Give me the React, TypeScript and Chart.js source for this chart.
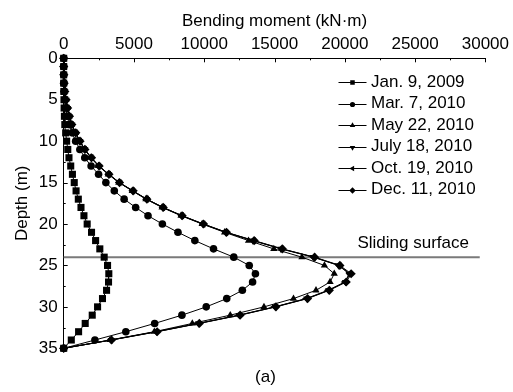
import React, { useEffect, useRef } from 'react';
import { Chart, registerables } from 'chart.js';
import { drawPoint } from 'chart.js/helpers';

Chart.register(...registerables);

// ---- data ----
const depths = [0, 1, 2, 3, 4, 5, 6, 7, 8, 9, 10, 11, 12, 13, 14, 15, 16, 17, 18, 19, 20, 21, 22, 23, 24, 25, 26, 27, 28, 29, 30, 31, 32, 33, 34, 35];

const jan2009 = [0, 0, 0, 0, 10, 20, 30, 50, 80, 140, 210, 290, 375, 500, 620, 750, 880, 1040, 1230, 1440, 1670, 1980, 2270, 2570, 2880, 3120, 3210, 3190, 3050, 2760, 2410, 2030, 1530, 1060, 540, 0];
const mar2010 = [0, 0, 0, 10, 30, 80, 150, 250, 400, 600, 850, 1150, 1500, 1950, 2480, 3000, 3600, 4300, 5120, 6000, 7020, 8130, 9330, 10660, 12100, 13200, 13640, 13440, 12710, 11600, 10140, 8410, 6470, 4420, 2220, 0];
const may2010 = [0, 0, 10, 30, 80, 160, 260, 390, 560, 840, 1130, 1480, 1930, 2470, 3170, 3920, 4880, 5850, 7000, 8350, 9850, 11450, 13150, 14950, 16950, 18550, 19250, 18950, 17950, 16350, 14250, 11850, 9150, 6450, 3300, 0];
const jul2010 = [0, 0, 10, 30, 80, 170, 270, 400, 570, 850, 1150, 1500, 1950, 2500, 3200, 3950, 4900, 5900, 7050, 8400, 9900, 11520, 13450, 15450, 17750, 19550, 20300, 20050, 18850, 17300, 15050, 12500, 9600, 6600, 3380, 0];
const oct2010 = [0, 0, 10, 30, 80, 170, 270, 400, 570, 850, 1150, 1500, 1960, 2510, 3210, 3960, 4920, 5900, 7060, 8410, 9920, 11550, 13500, 15500, 17800, 19600, 20350, 20000, 18800, 17250, 15000, 12450, 9550, 6550, 3350, 0];
const dec2010 = [0, 0, 10, 30, 80, 170, 280, 410, 580, 860, 1160, 1510, 1980, 2520, 3220, 3970, 4940, 5920, 7080, 8430, 9950, 11580, 13550, 15550, 17850, 19650, 20450, 20100, 18900, 17350, 15100, 12550, 9650, 6650, 3400, 0];

const seriesLabels = ['Jan. 9, 2009', 'Mar. 7, 2010', 'May 22, 2010', 'July 18, 2010', 'Oct. 19, 2010', 'Dec. 11, 2010'];
const seriesValues = [jan2009, mar2010, may2010, jul2010, oct2010, dec2010];

const slidingDepth = 24;
const slidingRange = [0, 29600];
const slidingLabel = 'Sliding surface';
const xTitle = 'Bending moment (kN·m)';
const yTitle = 'Depth (m)';
const panelLabel = '(a)';

// ---- styles ----
const FONT = "'Liberation Sans', Arial, Helvetica, sans-serif";
const pointStyles = ['rect', 'circle', 'triangle', 'triangle', 'triangle', 'rectRot'];
const pointRotations = [0, 0, 0, 180, -90, 0];
const pointRadii = [5, 3.8, 4.2, 4.2, 4.2, 4.6];
const legendRadii = [3.2, 2.6, 3.2, 3.2, 3.2, 3.2];

const decorPlugin = {
  id: 'decor',
  afterDraw(chart: any) {
    const ctx = chart.ctx;
    const { left, top } = chart.chartArea;
    const xs = chart.scales.x;
    const ys = chart.scales.y;
    ctx.save();
    ctx.strokeStyle = '#000';
    ctx.lineWidth = 1;
    // top axis inward ticks (major + minor)
    for (let v = 0; v <= 30000; v += 2500) {
      const px = Math.round(xs.getPixelForValue(v)) + 0.5;
      const len = v % 5000 === 0 ? 4 : 2;
      ctx.beginPath();
      ctx.moveTo(px, top);
      ctx.lineTo(px, top + len);
      ctx.stroke();
    }
    // left axis inward ticks
    for (let d = 0; d <= 35; d += 2.5) {
      const py = Math.round(ys.getPixelForValue(d)) + 0.5;
      const len = d % 5 === 0 ? 4 : 2;
      ctx.beginPath();
      ctx.moveTo(left, py);
      ctx.lineTo(left + len, py);
      ctx.stroke();
    }
    // sliding surface label
    ctx.fillStyle = '#000';
    ctx.font = `17px ${FONT}`;
    ctx.textAlign = 'left';
    ctx.textBaseline = 'middle';
    ctx.fillText(slidingLabel, xs.getPixelForValue(20900), ys.getPixelForValue(slidingDepth) - 14);

    // legend
    const lx0 = 338.5, lx1 = 366.5, lxm = 352.5, tx = 371;
    seriesLabels.forEach((lab, i) => {
      const y = 82 + i * 21.5;
      ctx.strokeStyle = '#000';
      ctx.lineWidth = 1;
      ctx.beginPath();
      ctx.moveTo(lx0, Math.round(y) + 0.5);
      ctx.lineTo(lx1, Math.round(y) + 0.5);
      ctx.stroke();
      ctx.fillStyle = '#000';
      drawPoint(ctx, { pointStyle: pointStyles[i], rotation: pointRotations[i], radius: legendRadii[i], borderWidth: 0 } as any, lxm, Math.round(y) + 0.5);
      ctx.fillStyle = '#000';
      ctx.font = `17px ${FONT}`;
      ctx.textAlign = 'left';
      ctx.textBaseline = 'middle';
      ctx.fillText(lab, tx, y);
    });

    // panel label
    ctx.textAlign = 'center';
    ctx.fillText(panelLabel, 265.5, 377.5);
    ctx.restore();
  },
};

export default function App() {
  const ref = useRef<HTMLCanvasElement | null>(null);
  useEffect(() => {
    document.body.style.margin = '0';
    const canvas = ref.current;
    if (!canvas) return;
    Chart.defaults.color = '#000';
    Chart.defaults.font.family = FONT;
    const datasets: any[] = seriesValues.map((vals, i) => ({
      label: seriesLabels[i],
      data: depths.map((d, j) => ({ x: vals[j], y: d })),
      showLine: true,
      borderColor: '#000',
      borderWidth: 1,
      backgroundColor: '#000',
      pointStyle: pointStyles[i],
      pointRotation: pointRotations[i],
      pointRadius: pointRadii[i],
      pointBorderWidth: 0,
      pointBackgroundColor: '#000',
      clip: false,
      order: 0,
    }));
    datasets.push({
      label: slidingLabel,
      data: slidingRange.map((x) => ({ x, y: slidingDepth })),
      showLine: true,
      borderColor: '#7a7a7a',
      borderWidth: 2,
      pointRadius: 0,
      clip: false,
      order: 10,
    });
    const chart = new Chart(canvas, {
      type: 'scatter',
      data: { datasets },
      options: {
        animation: false,
        responsive: false,
        devicePixelRatio: 1,
        layout: { padding: { left: 0, right: 26, top: 0, bottom: 43.7 } },
        plugins: { legend: { display: false }, tooltip: { enabled: false }, title: { display: false } },
        scales: {
          x: {
            type: 'linear',
            position: 'top',
            min: 0,
            max: 30000,
            afterFit: (s: any) => { s.height = 58.3; },
            grid: { display: false, drawTicks: false },
            border: { display: true, color: '#000', width: 1 },
            ticks: { stepSize: 5000, padding: 4, font: { size: 17, family: FONT }, color: '#000', callback: (v: any) => String(v), maxRotation: 0 },
            title: { display: true, text: xTitle, font: { size: 17, family: FONT }, color: '#000', padding: { top: 11, bottom: 0 } },
          },
          y: {
            type: 'linear',
            position: 'left',
            reverse: true,
            min: 0,
            max: 35,
            afterFit: (s: any) => { s.width = 63.7; },
            grid: { display: false, drawTicks: false },
            border: { display: true, color: '#000', width: 1 },
            ticks: { stepSize: 5, padding: 6, font: { size: 17, family: FONT }, color: '#000' },
            title: { display: true, text: yTitle, font: { size: 17, family: FONT }, color: '#000', padding: { top: 12, bottom: 0 } },
          },
        },
      } as any,
      plugins: [decorPlugin],
    });
    return () => chart.destroy();
  }, []);
  return (
    <div style={{ position: 'absolute', left: 0, top: 0, width: 513, height: 392 }}>
      <canvas ref={ref} width={513} height={392} />
    </div>
  );
}
